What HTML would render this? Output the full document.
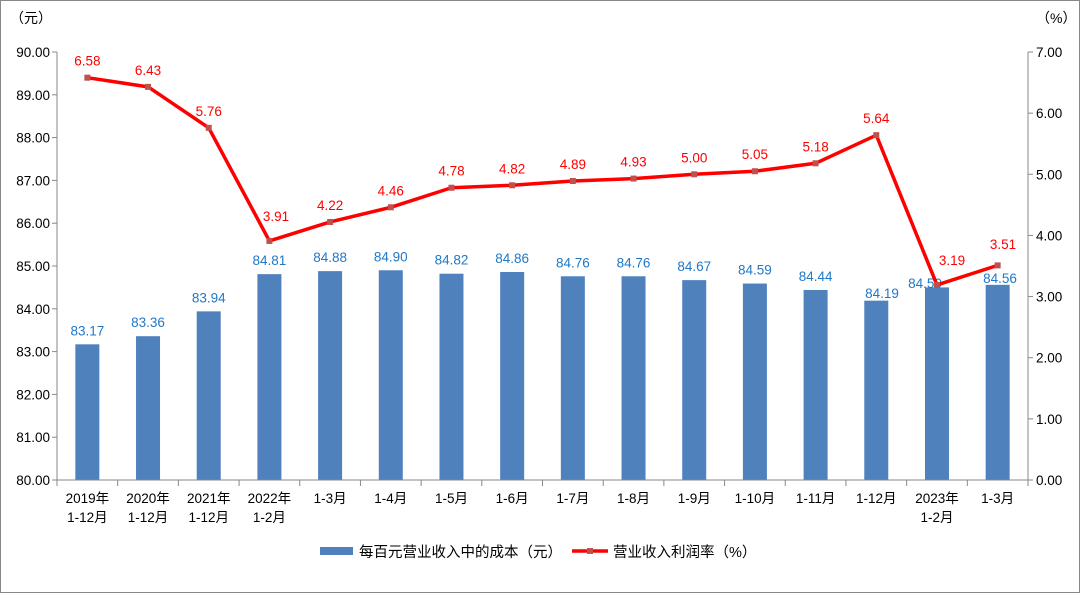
<!DOCTYPE html>
<html><head><meta charset="utf-8"><style>
html,body{margin:0;padding:0;background:#fff}
svg{display:block}
text{font-family:"Liberation Sans","Noto Sans CJK SC",sans-serif}
</style></head><body>
<svg id="c" width="1080" height="593" xmlns="http://www.w3.org/2000/svg"></svg>
<script>
const bars=[83.17,83.36,83.94,84.81,84.88,84.90,84.82,84.86,84.76,84.76,84.67,84.59,84.44,84.19,84.50,84.56];
const line=[6.58,6.43,5.76,3.91,4.22,4.46,4.78,4.82,4.89,4.93,5.00,5.05,5.18,5.64,3.19,3.51];
const cats=[["2019年","1-12月"],["2020年","1-12月"],["2021年","1-12月"],["2022年","1-2月"],["1-3月"],["1-4月"],["1-5月"],["1-6月"],["1-7月"],["1-8月"],["1-9月"],["1-10月"],["1-11月"],["1-12月"],["2023年","1-2月"],["1-3月"]];
const L=57,R=1028,T=52,B=480,W=(R-L)/16;
const y=v=>B-(v-80)*(B-T)/10, yr=p=>B-p*(B-T)/7, cx=i=>L+W*(i+0.5);
const barPos={13:[882,298],14:[925,288],15:[1000,283]};
const linePos={3:[276,221],14:[952,265],15:[1003,249]};
let s='<rect x="0.5" y="0.5" width="1079" height="592" fill="#fff" stroke="#888"/>';
s+='<text x="10" y="23" font-size="14" fill="#000">（元）</text><text x="1036" y="23" font-size="14" fill="#000">（%）</text>';
for(let k=0;k<=10;k++){const yy=y(80+k);s+=`<line x1="${L-5}" y1="${yy}" x2="${L}" y2="${yy}" stroke="#888"/><text x="${L-7}" y="${yy+5}" font-size="13.5" text-anchor="end">${(80+k).toFixed(2)}</text>`;}
for(let k=0;k<=7;k++){const yy=yr(k);s+=`<line x1="${R}" y1="${yy}" x2="${R+5}" y2="${yy}" stroke="#888"/><text x="${R+8}" y="${yy+5}" font-size="13.5">${k.toFixed(2)}</text>`;}
bars.forEach((v,i)=>{s+=`<rect x="${cx(i)-12}" y="${y(v)}" width="24" height="${B-y(v)}" fill="#4F81BD"/>`;});
s+=`<line x1="${L}" y1="${T}" x2="${L}" y2="${B}" stroke="#888"/><line x1="${R}" y1="${T}" x2="${R}" y2="${B}" stroke="#888"/><line x1="${L}" y1="${B}" x2="${R}" y2="${B}" stroke="#888"/>`;
for(let i=0;i<=16;i++){const x=L+W*i;s+=`<line x1="${x}" y1="${B}" x2="${x}" y2="${B+6}" stroke="#888"/>`;}
bars.forEach((v,i)=>{const p=barPos[i]||[cx(i),y(v)-9];s+=`<text x="${p[0]}" y="${p[1]}" font-size="13.5" fill="#1F78C8" text-anchor="middle">${v.toFixed(2)}</text>`;});
s+=`<polyline fill="none" stroke="#FF0000" stroke-width="3.5" stroke-linejoin="round" points="${line.map((p,i)=>cx(i)+','+yr(p)).join(' ')}"/>`;
line.forEach((p,i)=>{const q=linePos[i]||[cx(i),yr(p)-12];s+=`<rect x="${cx(i)-3}" y="${yr(p)-3}" width="6" height="6" fill="#C0504D"/><text x="${q[0]}" y="${q[1]}" font-size="13.5" fill="#FF0000" text-anchor="middle">${p.toFixed(2)}</text>`;});
cats.forEach((c,i)=>{c.forEach((t,j)=>{s+=`<text x="${cx(i)}" y="${B+23+j*19}" font-size="13.5" text-anchor="middle">${t}</text>`;});});
s+='<rect x="320" y="547" width="33" height="8" fill="#4F81BD"/><text x="359" y="557" font-size="14.5">每百元营业收入中的成本（元）</text>';
s+='<line x1="572" y1="551" x2="608" y2="551" stroke="#FF0000" stroke-width="3.5"/><rect x="587" y="548" width="6" height="6" fill="#C0504D"/><text x="613" y="557" font-size="14.5">营业收入利润率（%）</text>';
document.getElementById('c').innerHTML=s;
</script>
</body></html>
